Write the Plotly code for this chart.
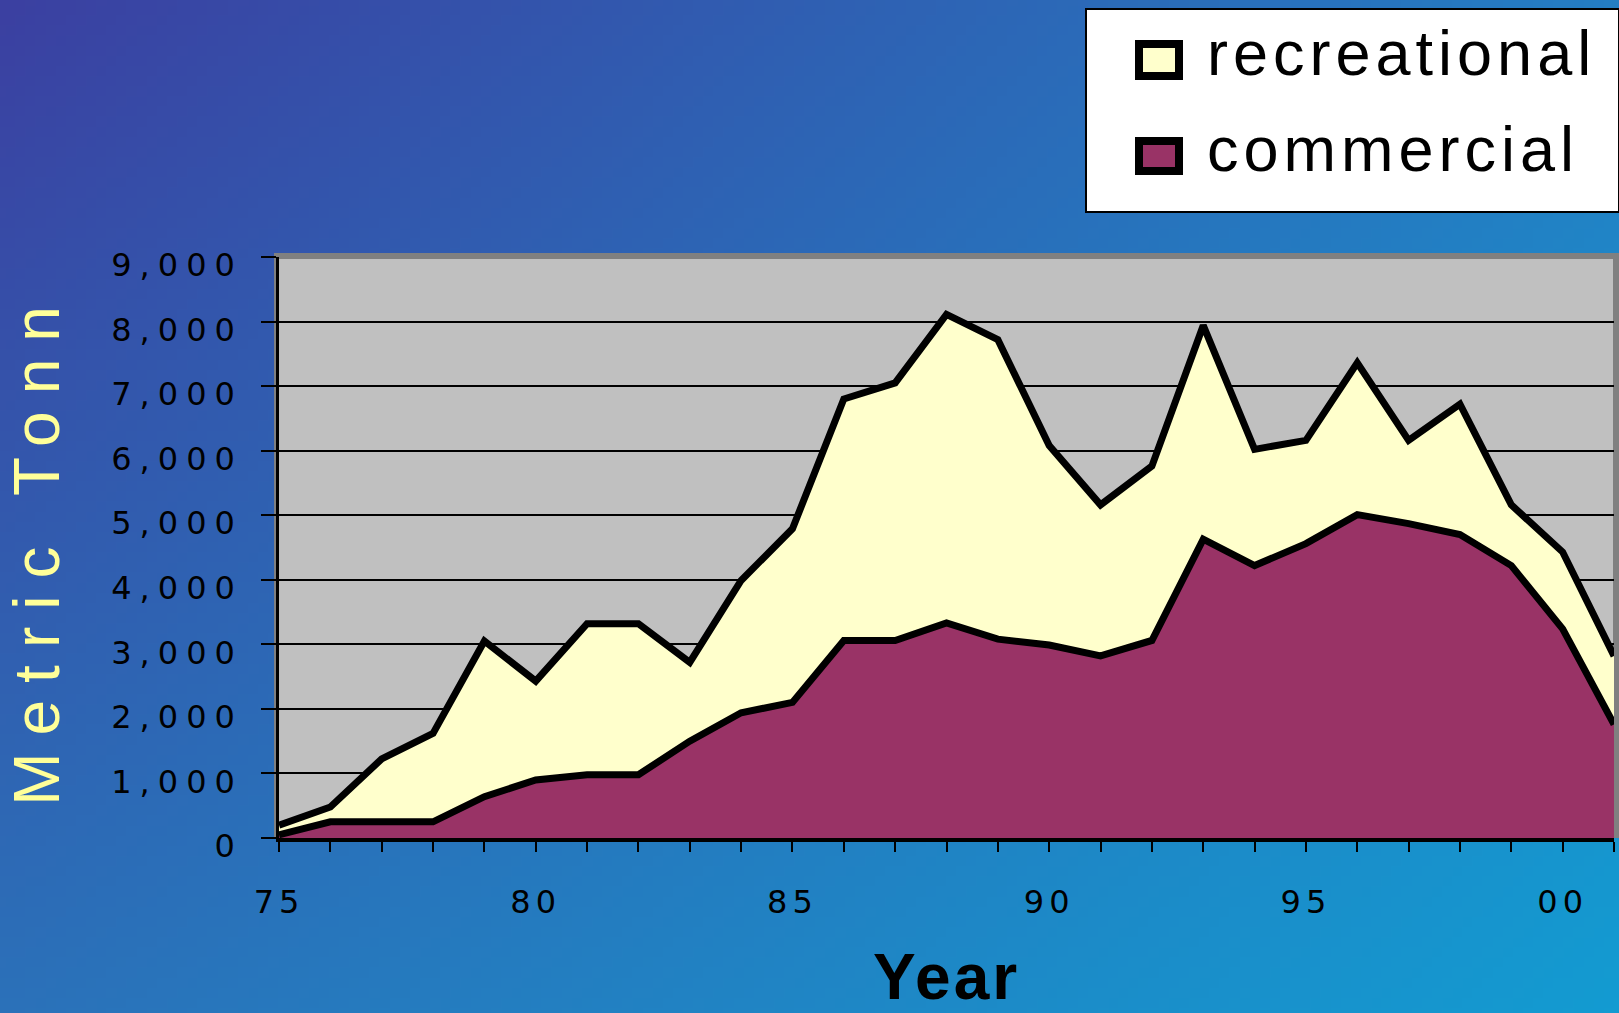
import base64
import struct
import zlib
import plotly.graph_objects as go

# ---------------- data ----------------
years = list(range(1975, 2002))
commercial = [50, 250, 250, 250, 640, 900, 980, 980, 1500, 1940, 2100, 3060, 3060,
              3330, 3080, 2990, 2820, 3060, 4630, 4220, 4560, 5010, 4870, 4700,
              4220, 3240, 1760]
recreational = [150, 230, 975, 1370, 2410, 1530, 2340, 2340, 1220, 2050, 2690, 3740,
                3990, 4780, 4640, 3090, 2340, 2700, 3310, 1800, 1600, 2350, 1290,
                2020, 940, 1190, 1060]
x_tick_vals = [1975, 1980, 1985, 1990, 1995, 2000]
x_tick_text = ["75", "80", "85", "90", "95", "00"]
y_tick_vals = [0, 1000, 2000, 3000, 4000, 5000, 6000, 7000, 8000, 9000]
y_tick_text = ["0", "1,000", "2,000", "3,000", "4,000", "5,000", "6,000", "7,000",
               "8,000", "9,000"]
series_names = ["recreational", "commercial"]
series_colors = ["#FFFFCC", "#993366"]

# ---------------- geometry ----------------
W, H = 1619, 1013
L, R, T, B = 279, 1614, 257, 838


def px(x):
    return (x - L) / (R - L)


def py(y):
    return (B - y) / (B - T)


def spaced(text, ls):
    return '<span style="letter-spacing:%gpx">%s</span>' % (ls, text)


# ---------------- gradient background (png) ----------------
def gradient_png(w, h):
    tl, tr = (59, 64, 161), (36, 126, 195)
    bl, br = (43, 113, 185), (19, 155, 209)
    raw = bytearray()
    for j in range(h):
        v = j / (h - 1)
        raw.append(0)
        for i in range(w):
            u = i / (w - 1)
            for c in range(3):
                top = tl[c] + (tr[c] - tl[c]) * u
                bot = bl[c] + (br[c] - bl[c]) * u
                raw.append(int(round(top + (bot - top) * v)))

    def chunk(tag, data):
        return (struct.pack(">I", len(data)) + tag + data +
                struct.pack(">I", zlib.crc32(tag + data) & 0xffffffff))

    png = (b"\x89PNG\r\n\x1a\n" +
           chunk(b"IHDR", struct.pack(">IIBBBBB", w, h, 8, 2, 0, 0, 0)) +
           chunk(b"IDAT", zlib.compress(bytes(raw), 9)) +
           chunk(b"IEND", b""))
    return "data:image/png;base64," + base64.b64encode(png).decode()


fig = go.Figure()

fig.add_trace(go.Scatter(
    x=years, y=commercial, name=series_names[1], stackgroup="one",
    mode="lines", line=dict(color="black", width=7), fillcolor=series_colors[1],
))
fig.add_trace(go.Scatter(
    x=years, y=recreational, name=series_names[0], stackgroup="one",
    mode="lines", line=dict(color="black", width=7), fillcolor=series_colors[0],
))

shapes = [
    # plot wall frame
    dict(type="rect", xref="paper", yref="paper", x0=px(274), x1=px(1619),
         y0=py(838), y1=py(253), fillcolor="#808080", line=dict(width=0),
         layer="below"),
    dict(type="rect", xref="paper", yref="paper", x0=px(279), x1=px(1613),
         y0=py(834), y1=py(259), fillcolor="#C0C0C0", line=dict(width=0),
         layer="below"),
    # legend box
    dict(type="rect", xref="paper", yref="paper", x0=px(1086), x1=px(1619),
         y0=py(212), y1=py(9), fillcolor="white", line=dict(color="black", width=2),
         layer="above"),
]
annotations = []
legend_rows = [(40, 80), (137, 175)]
for (y0, y1), name, col in zip(legend_rows, series_names, series_colors):
    shapes.append(dict(type="rect", xref="paper", yref="paper",
                       x0=px(1139), x1=px(1179), y0=py(y1 - 4), y1=py(y0 + 4),
                       fillcolor=col, line=dict(color="black", width=8),
                       layer="above"))
    annotations.append(dict(
        text=spaced(name, 5), xref="paper", yref="paper",
        x=px(1205), y=py((y0 + y1) / 2 - 7), xanchor="left", yanchor="middle",
        showarrow=False,
        font=dict(family="Liberation Sans, Arial, sans-serif", size=63, color="black"),
    ))

fig.update_layout(
    width=W, height=H,
    margin=dict(l=L, r=W - R, t=T, b=H - B, pad=0),
    paper_bgcolor="#2a6fb6",
    plot_bgcolor="rgba(0,0,0,0)",
    showlegend=False,
    images=[dict(source=gradient_png(160, 100), xref="paper", yref="paper",
                 x=px(0), y=py(0), sizex=W / (R - L), sizey=H / (B - T),
                 xanchor="left", yanchor="top", sizing="stretch", layer="below")],
    shapes=shapes,
    annotations=annotations,
    xaxis=dict(
        range=[1975, 2001], tickmode="array", tickvals=x_tick_vals,
        ticktext=[spaced(t, 5) for t in x_tick_text],
        ticks="outside", ticklen=10, tickwidth=2, tickcolor="black",
        showline=True, linecolor="black", linewidth=3.5, showgrid=False,
        zeroline=False, ticklabelstandoff=23,
        minor=dict(tickvals=years, ticks="outside", ticklen=10, tickwidth=2,
                   tickcolor="black", showgrid=False),
        tickfont=dict(family="DejaVu Sans", size=32, color="black"),
        title=dict(text=spaced("Year", 3), standoff=40,
                   font=dict(family="Liberation Sans, Arial, sans-serif", size=64,
                             color="black", weight="bold")),
    ),
    yaxis=dict(
        range=[0, 9000], tickmode="array", tickvals=y_tick_vals,
        ticktext=[spaced(t, 8) for t in y_tick_text],
        ticks="outside", ticklen=15, tickwidth=2, tickcolor="black",
        showline=True, linecolor="black", linewidth=2.5,
        showgrid=True, gridcolor="black", gridwidth=2, zeroline=False,
        ticklabelstandoff=12, ticklabelshift=8,
        tickfont=dict(family="DejaVu Sans", size=32, color="black"),
        title=dict(text=spaced("Metric Tonn", 17), standoff=31,
                   font=dict(family="Liberation Sans, Arial, sans-serif", size=64,
                             color="#FFFF99")),
    ),
)

fig.write_html("out.html", config={"displayModeBar": False},
               post_script="document.documentElement.style.overflow='hidden';document.body.style.margin='0';document.body.style.overflow='hidden';window.scrollTo(0,0);")
